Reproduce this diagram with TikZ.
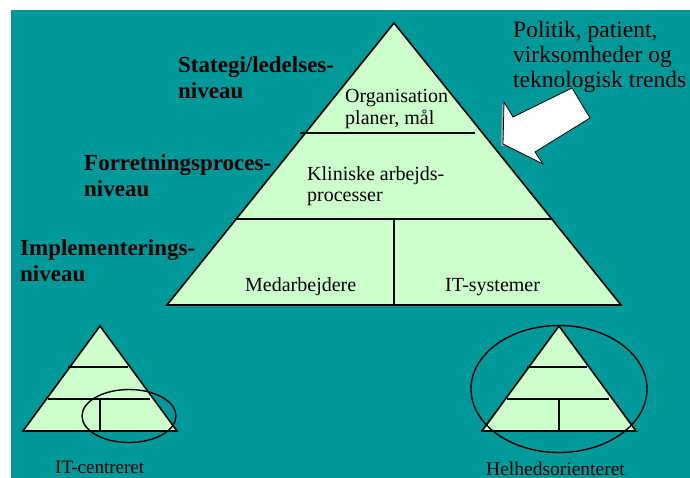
\documentclass[tikz,border=0pt]{standalone}
\usepackage{fontspec}
\setmainfont{Liberation Serif}
\usepackage{xcolor}
\definecolor{slidebg}{HTML}{009999}
\definecolor{pyrfill}{HTML}{CCFFCC}

\tikzset{
  pyr/.style={draw=black, fill=pyrfill, line width=1.6pt, line join=miter},
  sep/.style={draw=black, line width=1.6pt},
  txt/.style={anchor=base west, inner sep=0pt, align=left, font=\fontsize{20}{22}\selectfont},
  lvl/.style={anchor=base west, inner sep=0pt, align=left, font=\fontsize{23}{26}\selectfont\bfseries},
  ring/.style={draw=black, line width=1.4pt}
}

\begin{document}
\begin{tikzpicture}[x=1pt, y=-1pt]
    \useasboundingbox (0,0) rectangle (690,478);
    % Background
    \fill[slidebg] (11,10) rectangle (690,478);

    % Main pyramid
    \coordinate (top) at (394,23);
    \coordinate (bl) at (167,305);
    \coordinate (br) at (621,305);
    \filldraw[pyr] (top) -- (bl) -- (br) -- cycle;
    \draw[sep] (300,133) -- (475,133);
    \draw[sep] (235,219) -- (553,219);
    \draw[sep] (394,219) -- (394,305);

    % Texts inside the pyramid
    \node[txt] (org) at (345,103) {Organisation};
    \node[txt] (plan) at (345,125) {planer, mål};
    \node[txt] (klin) at (307,181) {Kliniske arbejds-};
    \node[txt] (proc) at (307,202) {processer};
    \node[txt] (medarb) at (245,291) {Medarbejdere};
    \node[txt] (itsys) at (445,291) {IT-systemer};

    % Level labels
    \foreach \n/\x/\y/\a/\b in {strat/178/73/Stategi\slash ledelses-/niveau,
                                forr/84/171/Forretningsproces-/niveau,
                                impl/20/255/Implementerings-/niveau} {
        \node[lvl] (\n a) at (\x,\y) {\a};
        \node[lvl] (\n b) at (\x,\y+26) {\b};
    }

    % Outside influences
    \foreach \i/\t in {0/{Politik, patient,}, 1/{virksomheder og}, 2/{teknologisk trends}} {
        \node[txt, font=\fontsize{23.5}{25}\selectfont] (infl\i) at (513,38+25*\i) {\t};
    }

    % Block arrow
    \fill[black!35] (501,146) -- (502,104) -- (506,108) -- (505,146) -- cycle;
    \filldraw[draw=black, fill=white, line width=0.8pt]
        (503,144) -- (504,102) -- (513,117) -- (572,88) -- (590,118)
        -- (535,152) -- (543,164) -- cycle;

    % Small pyramids
    \foreach \n/\a in {left/100, right/559} {
        \filldraw[pyr] (\a,326) -- (\a-77,431) -- (\a+77,431) -- cycle;
        \draw[sep] (\a-32,367) -- (\a+28,367);
        \draw[sep] (\a-52,399) -- (\a+50,399);
        \draw[sep] (\a,399) -- (\a,431);
    }
    \draw[ring] (129,416) ellipse [x radius=47, y radius=26.5];
    \draw[ring] (559,389) ellipse [x radius=88, y radius=63.5];

    \node[txt, font=\fontsize{19}{22}\selectfont] (itc) at (55,473) {IT-centreret};
    \node[txt, font=\fontsize{19.5}{22}\selectfont] (helhed) at (486,475) {Helhedsorienteret};
\end{tikzpicture}
\end{document}
